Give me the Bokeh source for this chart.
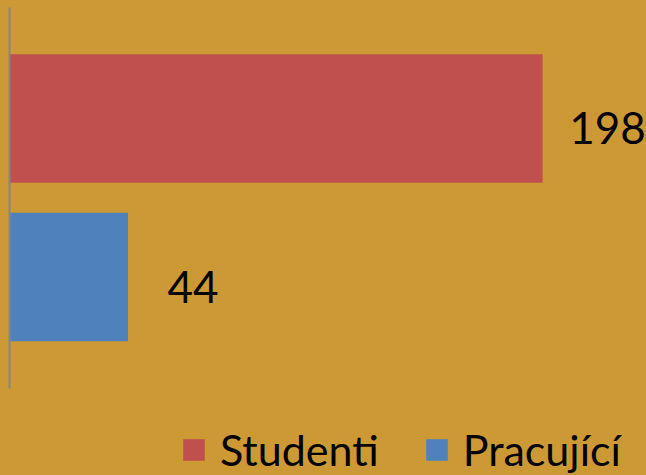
from bokeh.plotting import figure
from bokeh.models import ColumnDataSource, Range1d, Legend, LegendItem, FixedTicker
from bokeh.embed import file_html
from bokeh.resources import INLINE
from bokeh.core.properties import value

# Data
categories = ["Studenti", "Pracující"]
counts = [198, 44]
bar_colors = ["#C0504D", "#4F81BD"]

BG = "#CD9934"
FONT = "Lato"

# category positions (1 = top row)
positions = list(range(1, len(categories) + 1))

p = figure(
    width=646, height=475,
    y_range=Range1d(start=3.252, end=0.3),
    x_range=Range1d(0, 236.6),
    output_backend="svg", toolbar_location=None,
    min_border_left=9, min_border_right=0, min_border_top=7, min_border_bottom=0,
)
p.background_fill_color = BG
p.border_fill_color = BG
p.outline_line_color = None
p.xaxis.visible = False
p.xgrid.visible = False
p.ygrid.visible = False

# vertical category axis: only its line, spanning the bar area
ya = p.yaxis[0]
ya.ticker = FixedTicker(ticks=[])
ya.major_label_text_font_size = "0px"
ya.major_tick_line_color = None
ya.minor_tick_line_color = None
ya.axis_line_color = "#868686"
ya.axis_line_width = 2
ya.bounds = (0.3, 2.704)

renderers = []
for pos, v, col in zip(positions, counts, bar_colors):
    s = ColumnDataSource(dict(y=[pos], val=[v]))
    r = p.hbar(y="y", right="val", left=0, height=0.81, source=s,
               fill_color=col, line_color=None)
    renderers.append(r)

src = ColumnDataSource(dict(y=positions, val=counts, label=[str(v) for v in counts]))
p.text(x="val", y="y", text="label", source=src,
       text_font=value(FONT), text_font_size="44px", text_color="black",
       text_align="center", text_baseline="middle", x_offset=65, y_offset=10)

legend = Legend(
    items=[LegendItem(label=c, renderers=[r]) for c, r in zip(categories, renderers)],
    orientation="horizontal",
    location=(171, 0),
    glyph_width=27, glyph_height=27,
    label_standoff=13, spacing=44, padding=0, margin=0,
    label_text_font=FONT, label_text_font_size="43px", label_text_color="black",
    border_line_color=None, background_fill_alpha=0,
)
p.add_layout(legend, "center")

html = file_html(p, INLINE, title="chart")
html = html.replace("</head>",
                    "<style>html,body{margin:0;padding:0;background:%s;overflow:hidden}</style></head>" % BG, 1)
open("out.html", "w").write(html)
